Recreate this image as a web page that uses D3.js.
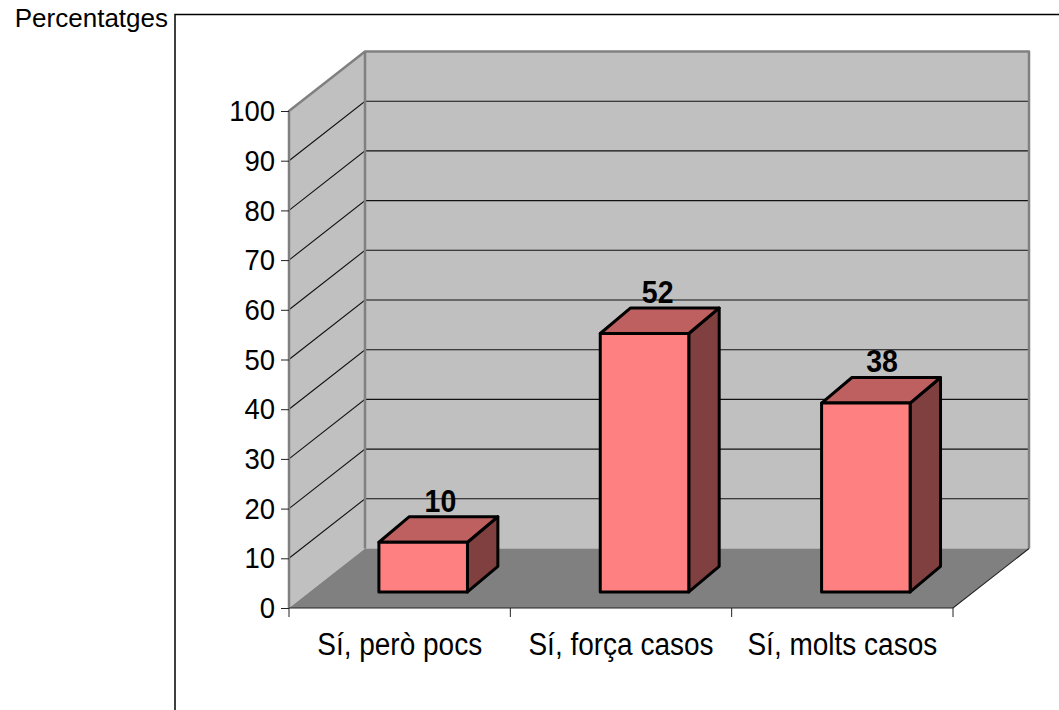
<!DOCTYPE html>
<html><head><meta charset="utf-8">
<script src="https://cdnjs.cloudflare.com/ajax/libs/d3/7.8.5/d3.min.js"></script>
<style>html,body{margin:0;padding:0;background:#fff}svg{display:block}text{font-family:"Liberation Sans",Arial,sans-serif;fill:#000}</style>
</head><body><svg id="c" width="1059" height="710"></svg>
<script>
const categories = ["Sí, però pocs", "Sí, força casos", "Sí, molts casos"];
const values = [10, 52, 38];
const yTicks = [0,10,20,30,40,50,60,70,80,90,100];
const yTitle = "Percentatges";

const svg = d3.select("#c");
const x = d3.scaleBand().domain(categories).range([289, 953]);
const y = d3.scaleLinear().domain([0,100]).range([608, 111]);
const depthX = 76, depthY = 59.5;
const P = (px, v, d, dy) => [px + d*depthX, y(v) - (dy === undefined ? d : dy)*depthY];
const poly = pts => "M" + pts.map(p => p.join(",")).join("L") + "Z";
const [x0, x1] = x.range();
const sy = 1.1; // the reference's text is slightly stretched vertically

// outer frame
svg.append("path").attr("d", "M175,710V14.5H1059").attr("fill","none").attr("stroke","#000").attr("stroke-width",1.5);

// walls
const wallG = "#C0C0C0", frame = "#808080";
svg.append("path").attr("d", poly([P(x1,0,1),P(x1,100,1),P(x0,100,1),P(x0,0,1)])).attr("fill",wallG);
svg.append("path").attr("d", poly([P(x0,0,0),P(x0,100,0),P(x0,100,1),P(x0,0,1)])).attr("fill",wallG);
svg.append("path").attr("d", poly([P(x0,0,0),P(x1,0,0),P(x1,0,1),P(x0,0,1)])).attr("fill",frame);

// gridlines
yTicks.slice(1,-1).forEach(t => {
  svg.append("path").attr("d", "M"+P(x0,t,0)+"L"+P(x0,t,1)+"L"+P(x1,t,1))
    .attr("fill","none").attr("stroke","#111").attr("stroke-width",1.1);
});
// wall edges
svg.append("path").attr("d","M"+P(x0,0,0)+"L"+P(x0,100,0)+"L"+P(x0,100,1)+"L"+P(x1,100,1)+"L"+P(x1,0,1))
  .attr("fill","none").attr("stroke",frame).attr("stroke-width",2.5).attr("stroke-linejoin","round");
svg.append("path").attr("d","M"+P(x0,100,1)+"L"+P(x0,0,1)).attr("stroke",frame).attr("stroke-width",2.5);
svg.append("path").attr("d","M"+P(x0,0,0)+"L"+P(x1,0,0)+"L"+P(x1,0,1)).attr("fill","none").attr("stroke","#222").attr("stroke-width",1.1);

// axes
const yAxis = d3.axisLeft(y).tickValues(yTicks).tickSize(8).tickPadding(6);
const gy = svg.append("g").attr("transform",`translate(${x0},0)`).call(yAxis);
gy.select(".domain").remove();
gy.selectAll("line").attr("stroke","#222");
gy.selectAll("text").attr("font-size",27.5).attr("font-family",null).attr("transform",`scale(1,${sy})`);

const xAxis = d3.axisBottom(x).tickFormat(d=>d).tickSize(0).tickPadding(23);
const gx = svg.append("g").attr("transform",`translate(0,${y(0)})`).call(xAxis);
gx.select(".domain").remove();
gx.selectAll("line").remove();
gx.selectAll("text").attr("font-size",28).attr("font-family",null).attr("transform",`scale(1,${sy})`);
const edges = [x0, ...categories.map(c => x(c)+x.bandwidth())];
svg.selectAll(".xt").data(edges).join("line").attr("class","xt")
  .attr("x1",d=>d).attr("x2",d=>d).attr("y1",y(0)).attr("y2",y(0)+9).attr("stroke","#222");

// bars
const barW = 0.4*x.bandwidth();
const d0 = 0.27, d1 = 0.67, d1y = 0.70, shiftX = 3;
const labelNudge = [1, -3, 0];
const barG = svg.append("g").attr("stroke","#000").attr("stroke-width",3).attr("stroke-linejoin","round");
categories.forEach((c,i) => {
  const v = values[i];
  const l = x(c)+x.bandwidth()/2-barW/2+shiftX, r = l+barW;
  barG.append("path").attr("d",poly([P(r,0,d0),P(r,0,d1,d1y),P(r,v,d1,d1y),P(r,v,d0)])).attr("fill","#804040");
  barG.append("path").attr("d",poly([P(l,v,d0),P(r,v,d0),P(r,v,d1,d1y),P(l,v,d1,d1y)])).attr("fill","#BF6060");
  barG.append("path").attr("d",poly([P(l,0,d0),P(r,0,d0),P(r,v,d0),P(l,v,d0)])).attr("fill","#FF8080");
  const top = P((l+r)/2, v, (d0+d1)/2);
  svg.append("text").attr("transform",`translate(${top[0]+1+labelNudge[i]},${P(l,v,d1,d1y)[1]-5}) scale(1,${sy})`)
    .attr("text-anchor","middle").attr("font-size",28.5).attr("font-weight","bold").text(v);
});

svg.append("text").attr("x",168).attr("y",27).attr("text-anchor","end").attr("font-size",26).text(yTitle);
</script></body></html>
